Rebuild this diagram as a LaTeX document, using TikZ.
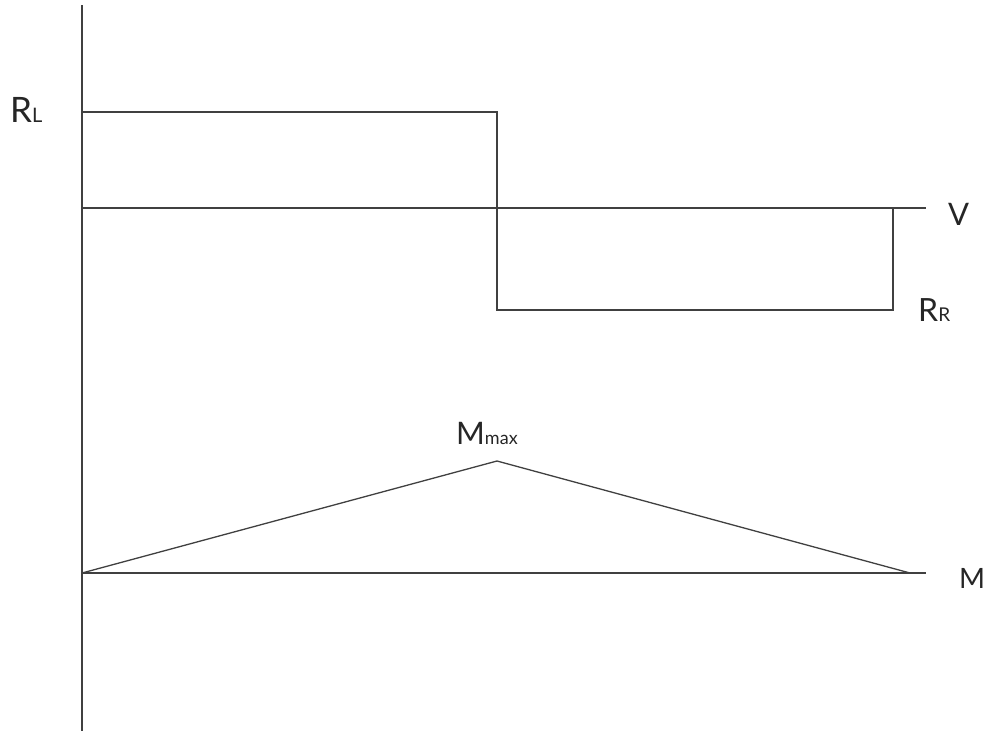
\documentclass[tikz,border=0pt]{standalone}
\usepackage{fontspec}
\setmainfont{Lato}
\begin{document}
\begin{tikzpicture}[x=1pt,y=-1pt,
  ln/.style={draw=black!75,line width=1.3pt},
  lbl/.style={inner sep=0pt,anchor=base west,font=\fontsize{31}{31}\selectfont,text=black!85}]
\useasboundingbox (0,0) rectangle (990,731);
% axis coordinates
\coordinate (top) at (82,5);
\coordinate (bot) at (82,731);
\coordinate (vA) at (82,208);
\coordinate (vB) at (926,208);
\coordinate (mA) at (82,573);
\coordinate (mB) at (926,573);
% shear diagram corners
\coordinate (s1) at (82,112);
\coordinate (s2) at (497,112);
\coordinate (s3) at (497,310);
\coordinate (s4) at (893,310);
\coordinate (s5) at (893,208);
% moment
\coordinate (pk) at (497,461);
\coordinate (mE) at (910,573);
\draw[ln] (top) -- (bot);
\draw[ln] (vA) -- (vB);
\draw[ln] (mA) -- (mB);
\draw[ln] (s1) -- (s2) -- (s3) -- (s4) -- (s5);
\draw[ln] (mA) -- (pk) -- (mE);
% labels
\node[lbl,font=\fontsize{35}{35}\selectfont] (RL) at (10,122) {R\fontsize{20}{20}\selectfont L};
\node[lbl] (V) at (948,225) {V};
\node[lbl,font=\fontsize{32}{32}\selectfont] (RR) at (918,321) {R\fontsize{19}{19}\selectfont R};
\node[lbl] (Mmax) at (456,444) {M\fontsize{18}{18}\selectfont max};
\node[lbl,font=\fontsize{28}{28}\selectfont] (M) at (959,588) {M};
\end{tikzpicture}
\end{document}
